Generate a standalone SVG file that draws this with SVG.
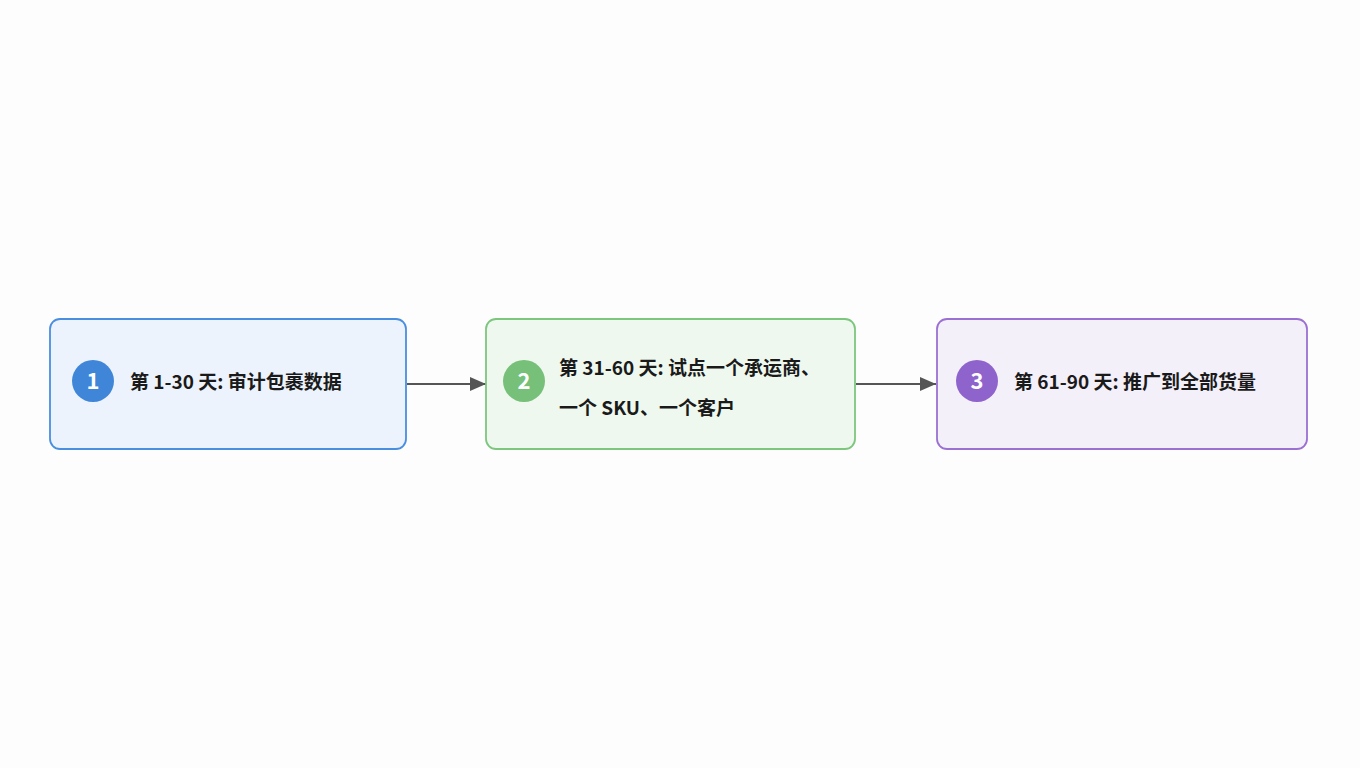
<svg xmlns="http://www.w3.org/2000/svg" width="1360" height="768" viewBox="0 0 1360 768">
<style>
text{font-family:"Noto Sans CJK SC","Noto Sans",sans-serif;font-weight:bold;}
.lbl{font-size:19px;fill:#1a1a1a;}
.num{font-size:22px;fill:#fff;text-anchor:middle;}
.edge{stroke:#555;stroke-width:2;fill:none;}
</style>
<defs><marker id="ah" viewBox="0 0 10 10" refX="10" refY="5" markerWidth="8" markerHeight="8" orient="auto" markerUnits="userSpaceOnUse"><path d="M0,0L10,5L0,10z" fill="#555"/></marker>
<marker id="a" viewBox="0 0 16 14" refX="16" refY="7" markerWidth="16" markerHeight="14" orient="auto" markerUnits="userSpaceOnUse"><path d="M0,0L16,7L0,14z" fill="#555"/></marker></defs>
<rect width="1360" height="768" fill="#fdfdfd"/>
<g id="connectors">
<path class="edge" d="M407,384H486" marker-end="url(#a)"/>
<path class="edge" d="M856,384H936" marker-end="url(#a)"/>
</g>
<g id="n1">
<rect x="50" y="319" width="356" height="130" rx="10" fill="#edf3fc" stroke="#4a8ee0" stroke-width="1.8"/>
<circle cx="93" cy="381" r="21" fill="#3f86d9"/>
<text class="num" x="93" y="389">1</text>
<text class="lbl" x="130" y="389">第 1-30 天: 审计包裹数据</text>
</g>
<g id="n2">
<rect x="486" y="319" width="369" height="130" rx="10" fill="#eef8ee" stroke="#7cc67e" stroke-width="1.8"/>
<circle cx="524" cy="381" r="21" fill="#76c07a"/>
<text class="num" x="524" y="389">2</text>
<text class="lbl" x="559" y="375">第 31-60 天: 试点一个承运商、</text>
<text class="lbl" x="559" y="415">一个 SKU、一个客户</text>
</g>
<g id="n3">
<rect x="937" y="319" width="370" height="130" rx="10" fill="#f4f0fa" stroke="#9a70d2" stroke-width="1.8"/>
<circle cx="977" cy="381" r="21" fill="#8f63cc"/>
<text class="num" x="977" y="389">3</text>
<text class="lbl" x="1014" y="389">第 61-90 天: 推广到全部货量</text>
</g>
</svg>
